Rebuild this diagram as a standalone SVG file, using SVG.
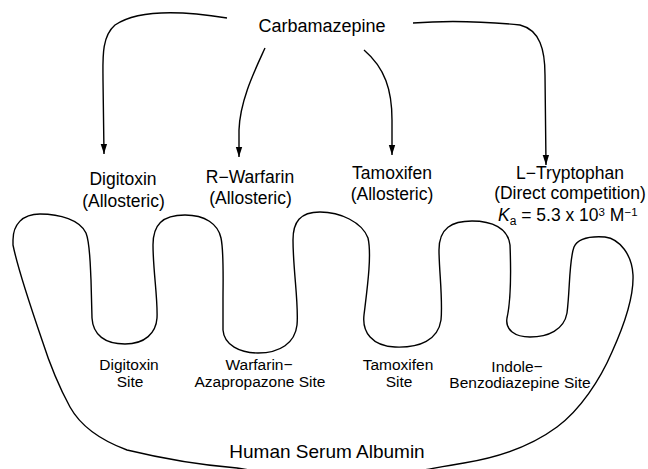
<svg xmlns="http://www.w3.org/2000/svg" width="648" height="469" viewBox="0 0 648 469">
<style>
text{font-family:"Liberation Sans",Arial,sans-serif;fill:#000}
.lbl{font-size:17.5px;text-anchor:middle}
.site{font-size:15.5px;text-anchor:middle}
.conn{fill:none;stroke:#000;stroke-width:1.4}
.outline{fill:none;stroke:#000;stroke-width:1.4}
</style>
<defs>
<marker id="ah" markerUnits="userSpaceOnUse" markerWidth="10" markerHeight="8" refX="10" refY="4" orient="auto">
<path d="M0,0.8 L10,4 L0,7.2 Z" fill="#000"/>
</marker>
</defs>
<rect width="648" height="469" fill="#fff"/>
<g id="connectors">
<path class="conn" d="M227,18 C190,12 140,8 115,25 C101,37 103,60 103,80 L104,154" marker-end="url(#ah)"/>
<path class="conn" d="M265,48 C255,70 240,100 239,130 L239,157" marker-end="url(#ah)"/>
<path class="conn" d="M364,50 C385,68 392,90 392,120 L392,155" marker-end="url(#ah)"/>
<path class="conn" d="M413,23 C450,20 490,22 520,25 C540,30 545,50 545,75 L546,165" marker-end="url(#ah)"/>
</g>
<g id="carbamazepine">
<text x="322" y="32" font-size="18" text-anchor="middle">Carbamazepine</text>
</g>
<g id="digitoxin">
<text class="lbl" x="123" y="185">Digitoxin</text>
<text class="lbl" x="123.5" y="207">(Allosteric)</text>
</g>
<g id="r-warfarin">
<text class="lbl" x="250" y="183">R−Warfarin</text>
<text class="lbl" x="250.5" y="204">(Allosteric)</text>
</g>
<g id="tamoxifen">
<text class="lbl" x="392" y="179">Tamoxifen</text>
<text class="lbl" x="392" y="200">(Allosteric)</text>
</g>
<g id="l-tryptophan">
<text class="lbl" x="570" y="179">L−Tryptophan</text>
<text class="lbl" x="570" y="199">(Direct competition)</text>
<text x="498" y="221" font-size="17.5"><tspan font-style="italic">K</tspan><tspan font-size="12" dy="4">a</tspan><tspan dy="-4"> = 5.3 x 10</tspan><tspan font-size="11.5" dy="-5">3</tspan><tspan dy="5"> M</tspan><tspan font-size="11.5" dy="-5">−1</tspan></text>
</g>
<g id="human-serum-albumin">
<path class="outline" d="M13,240 C13,225 22,214 40,214 C60,214 80,220 86,233 C90,243 90,260 91,280 L92,318 C93,335 105,344 125,344 C145,344 156,333 157,318 C158,300 153,270 153,245 C153,225 162,215 185,215 C205,215 218,224 221,238 C224,252 223,280 223,300 L223,330 C224,345 240,353 258,353 C280,353 295,343 297,325 C299,305 293,270 293,240 C293,222 300,212 320,212 C340,212 362,222 368,238 C372,255 367,290 364,315 C362,332 372,346 395,347 C420,348 438,340 441,320 C443,300 439,270 439,250 C439,228 452,221 472,221 C492,221 508,228 510,245 C511,270 511,300 507,318 C505,330 515,337 530,337 C548,337 564,330 567,313 C570,290 569,260 574,247 C578,238 590,236 605,237 C620,239 632,255 633,275 C634,300 622,330 612,352 C600,380 580,410 557,427 C530,447 495,458 464,463 C420,470 380,480 330,480 C290,480 265,472 237,468 C200,465 160,458 127,450 C100,440 80,425 70,407 C58,385 50,365 42,340 C30,305 18,270 13,245 Z"/>
<text x="327" y="458" font-size="19" text-anchor="middle">Human Serum Albumin</text>
<text class="site" x="129" y="370">Digitoxin</text>
<text class="site" x="130" y="387">Site</text>
<text class="site" x="259" y="370">Warfarin−</text>
<text class="site" x="260" y="387">Azapropazone Site</text>
<text class="site" x="398" y="370">Tamoxifen</text>
<text class="site" x="399" y="387">Site</text>
<text class="site" x="517" y="372">Indole−</text>
<text class="site" x="520" y="388">Benzodiazepine Site</text>
</g>
</svg>
